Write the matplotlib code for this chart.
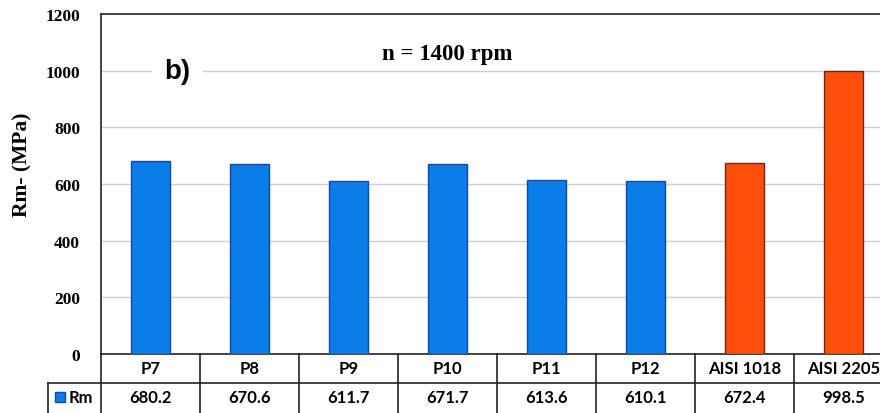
import matplotlib
matplotlib.use("Agg")
import matplotlib.pyplot as plt
from matplotlib.patches import Rectangle
from matplotlib.lines import Line2D

categories = ["P7", "P8", "P9", "P10", "P11", "P12", "AISI 1018", "AISI 2205"]
rm_values = [680.2, 670.6, 611.7, 671.7, 613.6, 610.1, 672.4, 998.5]
value_labels = ["680.2", "670.6", "611.7", "671.7", "613.6", "610.1", "672.4", "998.5"]
series_name = "Rm"
yticks = [0, 200, 400, 600, 800, 1000, 1200]

blue = "#0a7de8"
blue_edge = "#1448b0"
orange = "#ff4e0c"
orange_edge = "#6e2410"
colors = [blue] * 6 + [orange] * 2
edges = [blue_edge] * 6 + [orange_edge] * 2

fig = plt.figure(figsize=(8.8, 4.14), dpi=100)
ax = fig.add_axes([101 / 880, 59 / 414, 792 / 880, 340 / 414])

x = list(range(len(categories)))
ax.bar(x, rm_values, width=0.39, color=colors, edgecolor=edges, linewidth=1.0, zorder=3)

ax.set_xlim(-0.5, len(categories) - 0.5)
ax.set_ylim(0, 1200)
ax.set_yticks(yticks)
ax.set_yticklabels([str(v) for v in yticks], family="Liberation Serif", fontweight="bold", fontsize=12.5)
ax.tick_params(axis="y", length=0, pad=15)
ax.set_xticks([])
for yv in yticks[1:-1]:
    ax.axhline(yv, color="#cfcfcf", linewidth=1.0, zorder=1)

ax.spines["right"].set_visible(False)
for side in ["left", "top", "bottom"]:
    ax.spines[side].set_color("#222222")
    ax.spines[side].set_linewidth(1.2)

ax.set_ylabel("Rm- (MPa)", family="Liberation Serif", fontweight="bold", fontsize=15.5)
ax.yaxis.set_label_coords(-0.0859, 0.56)

ax.text(0.27, 1000, "b)", family="Liberation Sans", fontweight="bold", fontsize=20,
        ha="center", va="center", zorder=4,
        bbox=dict(facecolor="white", edgecolor="none", pad=9))
ax.text(3.0, 1060, "n = 1400 rpm", family="Liberation Serif", fontweight="bold", fontsize=16.5,
        ha="center", va="center", zorder=4)

# data table below the axis
tr = ax.get_xaxis_transform()
row1_bot = -28.5 / 340
row2_bot = -0.2
lc = "#222222"
lw = 1.2
ax.add_line(Line2D([-1.035, len(categories)], [row1_bot, row1_bot], transform=tr,
                   color=lc, lw=lw, clip_on=False))
for b in [i - 0.5 for i in range(len(categories) + 1)]:
    ax.add_line(Line2D([b, b], [0, row2_bot], transform=tr, color=lc, lw=lw, clip_on=False))
ax.add_line(Line2D([-1.035, -1.035], [row1_bot, row2_bot], transform=tr, color=lc, lw=lw, clip_on=False))

font_tbl = dict(family=["Lato", "DejaVu Sans"], fontweight="bold", fontsize=12)
y1 = row1_bot / 2
y2 = row1_bot - 14.5 / 340
for i, (c, v) in enumerate(zip(categories, value_labels)):
    ax.text(i, y1, c, transform=tr, ha="center", va="center", clip_on=False, **font_tbl)
    ax.text(i, y2, v, transform=tr, ha="center", va="center", clip_on=False, **font_tbl)

ax.add_patch(Rectangle((-0.96, y2 - 5 / 340), 0.095, 10 / 340, transform=tr, facecolor=blue,
                       edgecolor=blue_edge, lw=1.0, clip_on=False))
ax.text(-0.83, y2, series_name, transform=tr, ha="left", va="center", clip_on=False, **font_tbl)

fig.savefig("out.png", dpi=100)
